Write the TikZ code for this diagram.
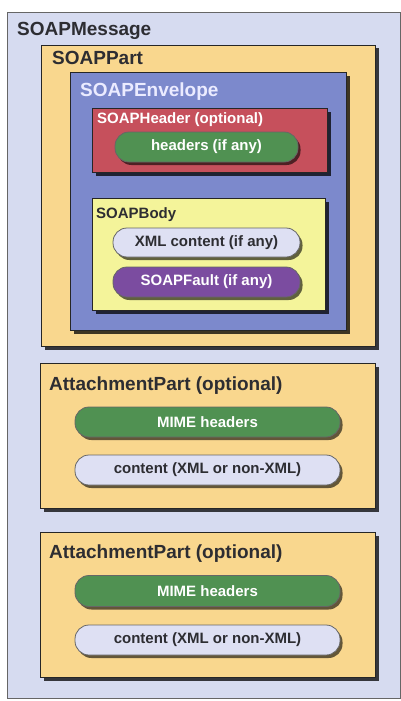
\documentclass[tikz,border=0pt]{standalone}
\usepackage{fontspec}
\setmainfont{Liberation Sans}
\usetikzlibrary{shadows}
\definecolor{msgbg}{RGB}{214,219,240}
\definecolor{partbg}{RGB}{249,215,142}
\definecolor{envbg}{RGB}{124,137,204}
\definecolor{hdrbg}{RGB}{198,80,92}
\definecolor{pillgreen}{RGB}{80,145,82}
\definecolor{bodybg}{RGB}{244,244,154}
\definecolor{pilllight}{RGB}{222,224,243}
\definecolor{pillpurple}{RGB}{123,76,160}
\definecolor{txtdark}{RGB}{45,45,50}
\tikzset{
  boxshape/.style={draw=black!85, line width=1pt, anchor=north west, inner sep=0pt,
    drop shadow={shadow xshift=3pt, shadow yshift=-3pt, fill=black, opacity=0.75}},
  pill/.style={draw=black!60, line width=0.8pt, rounded corners=14pt, inner sep=0pt,
    font=\fontsize{15}{16}\selectfont\bfseries,
    drop shadow={shadow xshift=2.5pt, shadow yshift=-3pt, fill=black, opacity=0.6}},
  bigtitle/.style={anchor=base west, inner sep=0pt, font=\fontsize{19}{20}\selectfont\bfseries},
  smalltitle/.style={anchor=base west, inner sep=0pt, font=\fontsize{15}{16}\selectfont\bfseries},
}
\begin{document}
\begin{tikzpicture}[x=1pt,y=-1pt]
\useasboundingbox (0,0) rectangle (401,701);
% outer SOAPMessage
\node[draw=black!60, line width=0.8pt, fill=msgbg, anchor=north west, inner sep=0pt,
  minimum width=393pt, minimum height=686pt] (msg) at (7,12) {};
\node[bigtitle, text=txtdark] (msgt) at (17,36) {SOAPMessage};
% SOAPPart
\node[boxshape, fill=partbg, minimum width=334pt, minimum height=301pt] (part) at (41,45) {};
\node[bigtitle, text=txtdark] (partt) at (52,65) {SOAPPart};
% SOAPEnvelope
\node[boxshape, fill=envbg, minimum width=276pt, minimum height=258pt] (env) at (70,72) {};
\node[bigtitle, text=white!92!blue] (envt) at (80,96) {SOAPEnvelope};
% SOAPHeader
\node[boxshape, fill=hdrbg, minimum width=235pt, minimum height=64pt] (hdr) at (92,108) {};
\node[smalltitle, text=white] (hdrt) at (97,123) {SOAPHeader (optional)};
\node[pill, fill=pillgreen, text=white, minimum width=183pt, minimum height=30pt] (hdrs) at (206.5,147) {headers (if any)};
% SOAPBody
\node[boxshape, fill=bodybg, minimum width=233pt, minimum height=112pt] (body) at (92,198) {};
\node[smalltitle, text=txtdark] (bodyt) at (96,218) {SOAPBody};
\node[pill, fill=pilllight, text=txtdark, minimum width=187pt, minimum height=29pt] (xml) at (206.5,242.5) {XML content (if any)};
\node[pill, fill=pillpurple, text=white, minimum width=187pt, minimum height=30pt] (fault) at (206.5,282) {SOAPFault (if any)};
% AttachmentPart 1
\node[boxshape, fill=partbg, minimum width=335pt, minimum height=145pt] (att1) at (40,363) {};
\node[bigtitle, text=txtdark] (att1t) at (49,390) {AttachmentPart (optional)};
\node[pill, fill=pillgreen, text=white, minimum width=265pt, minimum height=30pt] (mime1) at (207.5,422) {MIME headers};
\node[pill, fill=pilllight, text=txtdark, minimum width=265pt, minimum height=30pt] (cont1) at (207.5,470) {content (XML or non-XML)};
% AttachmentPart 2
\node[boxshape, fill=partbg, minimum width=335pt, minimum height=145pt] (att2) at (40,532) {};
\node[bigtitle, text=txtdark] (att2t) at (49,558) {AttachmentPart (optional)};
\node[pill, fill=pillgreen, text=white, minimum width=265pt, minimum height=31pt] (mime2) at (207.5,591) {MIME headers};
\node[pill, fill=pilllight, text=txtdark, minimum width=265pt, minimum height=30pt] (cont2) at (207.5,640) {content (XML or non-XML)};
\end{tikzpicture}
\end{document}
